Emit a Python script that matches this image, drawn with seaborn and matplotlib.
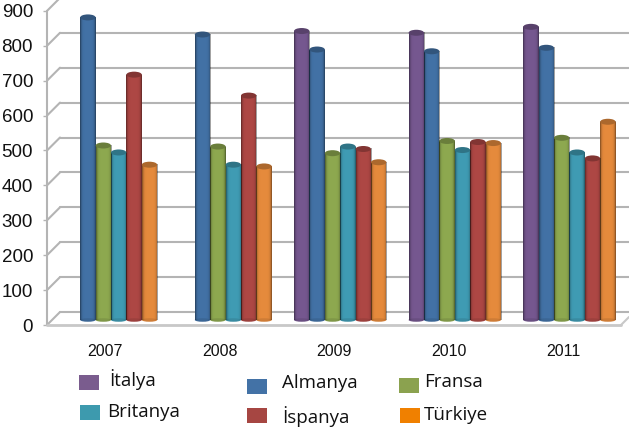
import numpy as np
import pandas as pd
import matplotlib
matplotlib.use("Agg")
import matplotlib.pyplot as plt
from matplotlib.patches import Ellipse, Rectangle
import seaborn as sns

years = ["2007", "2008", "2009", "2010", "2011"]
italya = [np.nan, np.nan, 828, 823, 840]
almanya = [867, 818, 775, 770, 780]
fransa = [500, 497, 478, 513, 522]
britanya = [480, 445, 497, 487, 480]
ispanya = [703, 643, 490, 510, 463]
turkiye = [445, 440, 452, 507, 568]
series_names = ["İtalya", "Almanya", "Fransa", "Britanya", "İspanya", "Türkiye"]
bar_colors = ["#75578F", "#4271A5", "#8DA84F", "#3F9BB3", "#AD4744", "#E58A3C"]
key_colors = ["#7A5C8E", "#4372A6", "#8BA24F", "#3D9AAE", "#A64642", "#F08000"]
y_ticks = [0, 100, 200, 300, 400, 500, 600, 700, 800, 900]

W, H = 629, 430
sns.set_theme(style="white")
plt.rcParams["font.family"] = ["Liberation Sans Narrow", "Liberation Sans", "DejaVu Sans"]
fig = plt.figure(figsize=(W / 100, H / 100), dpi=100)

ax_l, ax_r, base, below = 47, 629, 320, 6   # axes run 6 px below the bars' base
ax = fig.add_axes([ax_l / W, (H - base - below) / H, (ax_r - ax_l) / W, (base + below) / H])
u = 100 / 34.9            # data units per pixel
px_x = 114.6              # pixels per category

df = pd.DataFrame({"Yıl": years, **dict(zip(series_names, [italya, almanya, fransa, britanya, ispanya, turkiye]))})
long = df.melt(id_vars="Yıl", var_name="Ülke", value_name="Değer")
sns.barplot(data=long, x="Yıl", y="Değer", hue="Ülke", hue_order=series_names,
            palette=bar_colors, saturation=1, width=0.806, legend=False, ax=ax, zorder=3,
            edgecolor="none", linewidth=0)

x0 = (ax_l - 111) / px_x
x1 = x0 + (ax_r - ax_l) / px_x
ylim = (-below * u, base * u)

# cylinder shading: dark towards both sides, no bright streak
shade = np.zeros((1, 32, 4))
t = np.linspace(-1, 1, 32)
shade[..., 3] = np.clip(np.abs(t) ** 6 * 0.45, 0, 1)
for p in list(ax.patches):
    h = p.get_height()
    if not np.isfinite(h) or h <= 0:
        continue
    x, w = p.get_x(), p.get_width()
    c = np.array(matplotlib.colors.to_rgb(p.get_facecolor()))
    ax.imshow(shade, extent=(x, x + w, 0, h), aspect="auto", zorder=3.1, interpolation="bilinear")
    ax.add_patch(Ellipse((x + w / 2, 0), w, 3.5 * u, fc=c * 0.9, ec="none", zorder=3, clip_on=False))
    ax.add_patch(Ellipse((x + w / 2, h), w, 6 * u, fc=c * 0.75, ec="none", zorder=3.2, clip_on=False))

ax.set_xlabel("")
ax.set_ylabel("")
for s in ax.spines.values():
    s.set_visible(False)

# walls and floor
front, back = 5 * u, 8 * u
wall = 13 / px_x
grid_kw = dict(color="#B4B4B4", lw=1.5, zorder=1, clip_on=False)
for v in y_ticks:
    if v < 900:
        ax.plot([x0 + wall, x1], [v + back] * 2, **grid_kw)
    ax.plot([x0, x0 + wall], [v - front, v + back], **grid_kw)
ax.plot([x0, x0], [-front, 900 - front], **grid_kw)
ax.plot([x0, x1 - 8 / px_x], [-front, -front], color="#C8C8C8", lw=2, zorder=1, clip_on=False)
ax.plot([x1 - 8 / px_x, x1], [-front, -front + 8 * u], color="#C8C8C8", lw=1.5, zorder=1, clip_on=False)

ax.set_yticks([v - front for v in y_ticks], [str(v) for v in y_ticks])
ax.set_xticks([i - 6 / px_x for i in range(len(years))], years)
ax.tick_params(axis="y", length=3, width=1, color="#B4B4B4", pad=7, labelsize=13.5, labelcolor="#111111", left=True)
ax.tick_params(axis="x", length=0, pad=12.7, labelsize=11.5, labelcolor="#111111")
# limits go last: setting ticks outside the view would widen it
ax.set_xlim(x0, x1)
ax.set_ylim(*ylim)

# legend, placed as in the original
key_pos = [(79, 375), (247, 379), (399, 378), (80, 405), (247, 408), (400, 408)]
txt_pos = [(109, 380), (282, 383), (424, 382), (107, 412), (282, 417), (424, 415)]
for name, col, (kx, ky), (tx, ty) in zip(series_names, key_colors, key_pos, txt_pos):
    fig.add_artist(Rectangle((kx / W, 1 - (ky + 15) / H), 20 / W, 15 / H, fc=col, ec="none",
                             transform=fig.transFigure))
    fig.text(tx / W, 1 - ty / H, name, ha="left", va="center", fontsize=13.5,
             family=["Open Sans", "DejaVu Sans"], color="#111111")

fig.savefig("out.png", dpi=100)
